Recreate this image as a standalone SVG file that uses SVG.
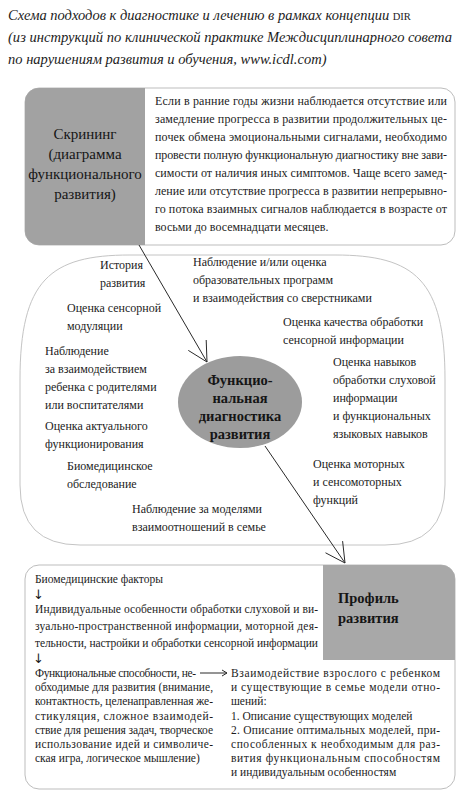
<svg xmlns="http://www.w3.org/2000/svg" width="461" height="800" viewBox="0 0 461 800">
<style>
.t{font-family:"Liberation Serif","DejaVu Serif",serif;font-size:12px;fill:#1c1c1c}
.b{font-family:"Liberation Serif","DejaVu Serif",serif;font-size:11.5px;fill:#1c1c1c}
.ti{font-family:"Liberation Serif","DejaVu Serif",serif;font-size:14.5px;font-style:italic;fill:#1c1c1c}
.h{font-family:"Liberation Serif","DejaVu Serif",serif;font-size:15px;fill:#151515}
.hb{font-family:"Liberation Serif","DejaVu Serif",serif;font-size:14.5px;font-weight:bold;fill:#151515}
.ar{font-family:"DejaVu Sans",sans-serif;font-size:13px;fill:#1c1c1c}
.ln{stroke:#2a2a2a;stroke-width:1;fill:none}
.box{fill:#fff;stroke:#bdbdbd;stroke-width:1}
</style>
<defs>
<clipPath id="c1"><rect x="25" y="88" width="430" height="157" rx="14"/></clipPath>
<clipPath id="c2"><rect x="25" y="565" width="430" height="224" rx="14"/></clipPath>
</defs>
<rect width="461" height="800" fill="#fff"/>
<g id="title">
<text class="ti" x="8" y="20">Схема подходов к диагностике и лечению в рамках концепции <tspan font-size="10.5" font-style="normal">DIR</tspan></text>
<text class="ti" x="8" y="42" textLength="444" lengthAdjust="spacingAndGlyphs">(из инструкций по клинической практике Междисциплинарного совета</text>
<text class="ti" x="8" y="64">по нарушениям развития и обучения, www.icdl.com)</text>
</g>
<g id="screening">
<rect class="box" x="25" y="88" width="430" height="157" rx="14"/>
<rect x="25" y="88" width="120" height="157" fill="#a2a2a2" clip-path="url(#c1)"/>
<text class="h" text-anchor="middle"><tspan x="85" y="139">Скрининг</tspan><tspan x="85" y="159">(диаграмма</tspan><tspan x="85" y="179">функционального</tspan><tspan x="85" y="199">развития)</tspan></text>
<g class="t">
<text x="155" y="105" textLength="292">Если в ранние годы жизни наблюдается отсутствие или</text>
<text x="155" y="123" textLength="292">замедление прогресса в развитии продолжительных це-</text>
<text x="155" y="141" textLength="292">почек обмена эмоциональными сигналами, необходимо</text>
<text x="155" y="159" textLength="292">провести полную функциональную диагностику вне зави-</text>
<text x="155" y="177" textLength="292">симости от наличия иных симптомов. Чаще всего замед-</text>
<text x="155" y="195" textLength="292">ление или отсутствие прогресса в развитии непрерывно-</text>
<text x="155" y="213" textLength="292">го потока взаимных сигналов наблюдается в возрасте от</text>
<text x="155" y="231">восьми до восемнадцати месяцев.</text>
</g>
</g>
<g id="assessment-area">
<path d="M20,485 L20,380 C20,280 50,255 130,255 L335,255 C415,255 445,280 445,380 L445,485 Q445,545 385,545 L80,545 Q20,545 20,485 Z" fill="none" stroke="#c4c4c4" stroke-width="1"/>
<g class="t">
<text x="100" y="269">История</text><text x="100" y="287">развития</text>
<text x="193" y="266">Наблюдение и/или оценка</text><text x="193" y="284">образовательных программ</text><text x="193" y="302">и взаимодействия со сверстниками</text>
<text x="67" y="312">Оценка сенсорной</text><text x="67" y="330">модуляции</text>
<text x="283" y="326">Оценка качества обработки</text><text x="283" y="344">сенсорной информации</text>
<text x="45" y="355">Наблюдение</text><text x="45" y="373">за взаимодействием</text><text x="45" y="391">ребенка с родителями</text><text x="45" y="409">или воспитателями</text>
<text x="333" y="366">Оценка навыков</text><text x="333" y="384">обработки слуховой</text><text x="333" y="402">информации</text><text x="333" y="420">и функциональных</text><text x="333" y="438">языковых навыков</text>
<text x="45" y="430">Оценка актуального</text><text x="45" y="448">функционирования</text>
<text x="67" y="470">Биомедицинское</text><text x="67" y="488">обследование</text>
<text x="313" y="468">Оценка моторных</text><text x="313" y="486">и сенсомоторных</text><text x="313" y="504">функций</text>
<text x="132" y="513">Наблюдение за моделями</text><text x="132" y="531">взаимоотношений в семье</text>
</g>
</g>
<g id="functional-diagnostics">
<ellipse cx="240" cy="402" rx="62" ry="46" fill="#9c9c9c"/>
<text class="hb" text-anchor="middle"><tspan x="240" y="385">Функцио-</tspan><tspan x="240" y="403">нальная</tspan><tspan x="240" y="421">диагностика</tspan><tspan x="240" y="439">развития</tspan></text>
</g>
<g id="profile">
<rect class="box" x="25" y="565" width="430" height="224" rx="14"/>
<rect x="323" y="565" width="132" height="95" fill="#a8a8a8" clip-path="url(#c2)"/>
<text class="hb"><tspan x="338" y="603">Профиль</tspan><tspan x="338" y="623">развития</tspan></text>
<g class="b">
<text x="35" y="583">Биомедицинские факторы</text>
<text class="ar" x="33" y="599">↓</text>
<text x="35" y="613" textLength="283">Индивидуальные особенности обработки слуховой и ви-</text>
<text x="35" y="630" textLength="283">зуально-пространственной информации, моторной дея-</text>
<text x="35" y="647" textLength="283">тельности, настройки и обработки сенсорной информации</text>
<text class="ar" x="33" y="663">↓</text>
<text x="35" y="677" textLength="161">Функциональные способности, не-</text>
<text x="35" y="691.2" textLength="178">обходимые для развития (внимание,</text>
<text x="35" y="705.4" textLength="178">контактность, целенаправленная же-</text>
<text x="35" y="719.6" textLength="178">стикуляция, сложное взаимодей-</text>
<text x="35" y="733.8" textLength="178">ствие для решения задач, творческое</text>
<text x="35" y="748" textLength="178">использование идей и символиче-</text>
<text x="35" y="762.2">ская игра, логическое мышление)</text>
<text x="231" y="677" textLength="209">Взаимодействие взрослого с ребенком</text>
<text x="231" y="691.2" textLength="209">и существующие в семье модели отно-</text>
<text x="231" y="705.4">шений:</text>
<text x="231" y="719.6">1. Описание существующих моделей</text>
<text x="231" y="733.8" textLength="209">2. Описание оптимальных моделей, при-</text>
<text x="231" y="748" textLength="209">способленных к необходимым для раз-</text>
<text x="231" y="762.2" textLength="209">вития функциональным способностям</text>
<text x="231" y="776.4">и индивидуальным особенностям</text>
</g>
</g>
<g id="connectors">
<path class="ln" d="M139,245 L207,362 M188.3,350.4 L207,362 L206.2,340"/>
<path class="ln" d="M265,446 L345,563 M325.5,552.8 L345,563 L342.6,541.1"/>
<path class="ln" d="M200,673 L227,673 M222,670 L227,673 L222,676"/>
</g>
</svg>
